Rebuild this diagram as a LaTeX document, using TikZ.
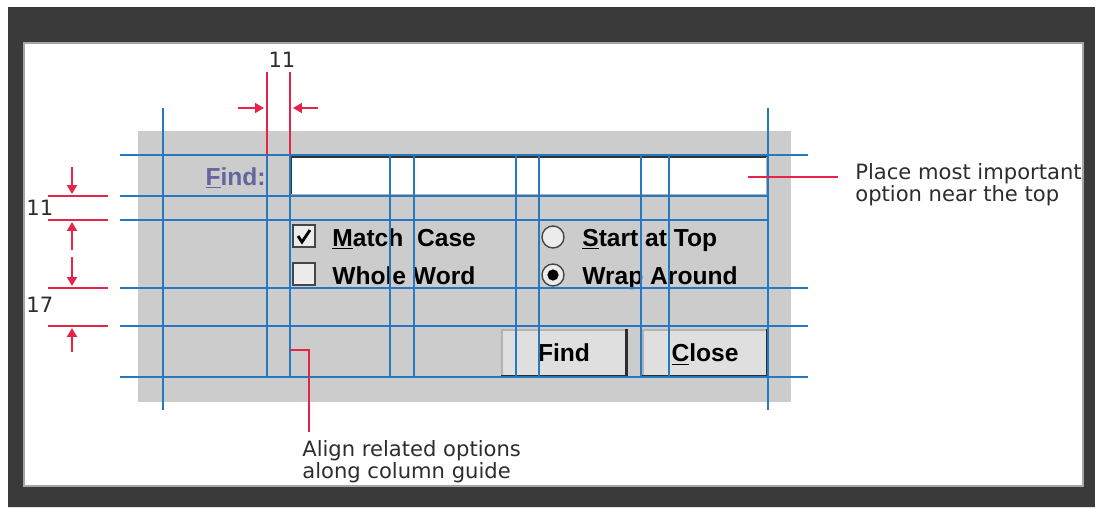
\documentclass[tikz,border=0pt]{standalone}
\usepackage{xcolor}
\usepackage{fontspec}
\setmainfont{DejaVu Sans}
\newfontfamily\guifont{Liberation Sans}
\usepackage{tikz}
\usetikzlibrary{arrows.meta,positioning,calc}
\definecolor{guideblue}{RGB}{38,120,192}
\definecolor{markred}{RGB}{228,36,72}
\definecolor{panelgray}{RGB}{204,204,204}
\definecolor{framedark}{RGB}{58,58,58}
\definecolor{findlabel}{RGB}{100,100,160}
\definecolor{notegray}{RGB}{45,45,45}
\tikzset{
    guide/.style={guideblue, line width=1.1pt},
    redmark/.style={markred, line width=1.1pt},
    redarr/.style={redmark, -{Triangle[length=5pt,width=5.5pt]}},
    guitext/.style={font=\guifont\bfseries\fontsize{14}{16}\selectfont, inner sep=0pt, anchor=base west},
    dimtext/.style={font=\fontsize{12}{14}\selectfont, text=notegray, inner sep=0pt, anchor=base west},
    notetext/.style={font=\fontsize{12}{12.5}\selectfont, text=notegray, align=left, inner sep=0pt, anchor=north west},
    checkbox/.style={draw=gray!55!black, fill=gray!15, minimum size=0.44cm, inner sep=0pt, line width=0.8pt},
    radio/.style={circle, draw=gray!55!black, fill=gray!15, minimum size=0.44cm, inner sep=0pt, line width=0.8pt},
    button/.style={draw=gray!60, fill=gray!25, line width=1pt, minimum width=2.48cm, minimum height=0.92cm,
        font=\guifont\bfseries\fontsize{14}{16}\selectfont, text height=10pt, text depth=0pt},
}

\begin{document}
\begin{tikzpicture}[x=0.02cm, y=-0.02cm]
    \useasboundingbox (0,0) rectangle (1095,507);
    \fill[white] (0,0) rectangle (1095,507);

    % dialog panel
    \fill[panelgray] (138,131) rectangle (791,402);

    % find field
    \fill[white] (291,157) rectangle (767,195);
    \draw[gray!40!black, line width=1pt] (291,195) -- (291,157) -- (767,157);
    \draw[gray!60, line width=1pt] (767,157) -- (767,195) -- (291,195);
    \node[guitext, anchor=base east, text=findlabel] (findlbl) at (266,185) {\underline{F}ind:};

    % options
    \node[checkbox] (matchbox) at (304,236) {};
    \node[checkbox] (wholebox) at (304,274) {};
    \draw[line width=1.6pt] ($(matchbox)+(-6,0)$) -- ($(matchbox)+(-2,6)$) -- ($(matchbox)+(6,-6)$);
    \node[guitext] (matchlbl) at (332,246) {\underline{M}atch\ \ Case};
    \node[guitext] (wholelbl) at (332,284) {Whole Word};
    \node[radio] (startradio) at (553,237) {};
    \node[radio] (wrapradio) at (553,275) {};
    \fill (wrapradio) circle (3.2pt);
    \node[guitext] (startlbl) at (582,246) {\underline{S}tart at Top};
    \node[guitext] (wraplbl) at (582,284) {Wrap Around};

    % buttons
    \node[button] (findbtn) at (564,353) {Find};
    \node[button] (closebtn) at (705,353) {\underline{C}lose};
    \foreach \b in {findbtn,closebtn}
        \draw[gray!35!black, line width=1.6pt] (\b.north east) -- (\b.south east) -- (\b.south west);

    % layout grid
    \foreach \gx in {267,290,390,414,516,539,641,669}
        \draw[guide] (\gx,155) -- (\gx,377);
    \foreach \gx in {163,768}
        \draw[guide] (\gx,108) -- (\gx,410);
    \foreach \gy in {155,288,326,377}
        \draw[guide] (120,\gy) -- (808,\gy);
    \foreach \gy in {196,220}
        \draw[guide] (120,\gy) -- (768,\gy);

    % spacing marks
    \foreach \gx in {267,290}
        \draw[redmark] (\gx,72) -- (\gx,155);
    \draw[redarr] (238,108) -- (264,108);
    \draw[redarr] (318,108) -- (293,108);
    \node[dimtext, anchor=base] (colgap) at (282,67) {11};
    \foreach \gy in {196,220,288,326}
        \draw[redmark] (48,\gy) -- (108,\gy);
    \draw[redarr] (72,167) -- (72,194);
    \draw[redarr] (72,250) -- (72,222);
    \draw[redarr] (72,257) -- (72,286);
    \draw[redarr] (72,352) -- (72,328);
    \node[dimtext] (rowgap) at (26,215) {11};
    \node[dimtext] (groupgap) at (26,312) {17};

    % notes
    \coordinate (fieldpt) at (748,177);
    \node[notetext] (placenote) at (855,163) {Place most important\\option near the top};
    \draw[redmark, shorten >=0.34cm] (fieldpt) -- (fieldpt -| placenote.west);
    \coordinate (colguide) at (290,350);
    \coordinate (alignbend) at (309,350);
    \node[notetext] (alignnote) at (302,440) {Align related options\\along column guide};
    \draw[redmark, shorten >=0.16cm] (colguide) -- (alignbend) -- (alignbend |- alignnote.north);

    % frame
    \fill[framedark, even odd rule] (8,7) rectangle (1095,507) (24,43) rectangle (1083,486);
    \draw[gray!70, line width=0.6pt] (24,43) rectangle (1083,486);
\end{tikzpicture}
\end{document}
